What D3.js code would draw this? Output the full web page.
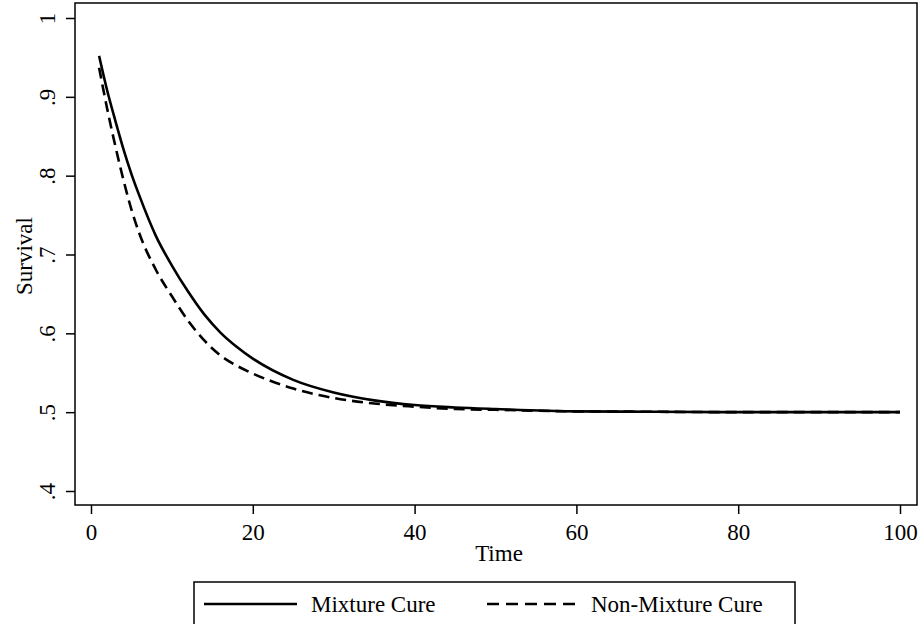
<!DOCTYPE html>
<html>
<head>
<meta charset="utf-8">
<script src="https://cdn.jsdelivr.net/npm/d3@7"></script>
<style>
  body { margin: 0; background: #fff; }
  svg { display: block; font-family: "Liberation Serif", "Times New Roman", serif; }
</style>
</head>
<body>
<svg id="chart" width="920" height="624"></svg>
<script>
// time points and survival values
const times = [1, 2, 3, 4, 5, 6, 8, 10, 12, 14, 16, 18, 20, 25, 30, 35, 40, 45, 50, 60, 70, 80, 90, 100];
const mixtureCure = [0.952, 0.908, 0.870, 0.834, 0.802, 0.774, 0.724, 0.686, 0.653, 0.624, 0.601, 0.583, 0.568, 0.541, 0.525, 0.515, 0.509, 0.506, 0.504, 0.501, 0.5005, 0.500, 0.500, 0.500];
const nonMixtureCure = [0.937, 0.885, 0.838, 0.795, 0.757, 0.726, 0.681, 0.647, 0.616, 0.591, 0.572, 0.559, 0.549, 0.530, 0.518, 0.511, 0.507, 0.504, 0.503, 0.501, 0.5005, 0.500, 0.500, 0.500];
const xTicks = [0, 20, 40, 60, 80, 100];
const yTicks = [0.4, 0.5, 0.6, 0.7, 0.8, 0.9, 1];
const yTickLabels = [".4", ".5", ".6", ".7", ".8", ".9", "1"];

const svg = d3.select("#chart");

const frame = { left: 75, top: 3, right: 917, bottom: 505 };

const x = d3.scaleLinear().domain([0, 100]).range([91, 900]);
const y = d3.scaleLinear().domain([0.4, 1]).range([491, 18]);

// plot frame
svg.append("rect")
    .attr("x", frame.left)
    .attr("y", frame.top)
    .attr("width", frame.right - frame.left)
    .attr("height", frame.bottom - frame.top)
    .attr("fill", "none")
    .attr("stroke", "#000")
    .attr("stroke-width", 1.5);

// y axis
const yAxis = svg.append("g")
    .attr("transform", `translate(${frame.left},0)`)
    .call(d3.axisLeft(y)
        .tickValues(yTicks)
        .tickSize(9)
        .tickFormat((d, i) => yTickLabels[i]));
yAxis.select(".domain").remove();
yAxis.selectAll(".tick line").attr("stroke", "#000").attr("stroke-width", 1.5);
yAxis.selectAll(".tick text")
    .attr("x", null).attr("dy", null)
    .attr("transform", "translate(-20,0) rotate(-90)")
    .attr("text-anchor", "middle")
    .style("font-family", "Liberation Serif")
    .style("font-size", "23px")
    .attr("fill", "#000");

// x axis
const xAxis = svg.append("g")
    .attr("transform", `translate(0,${frame.bottom})`)
    .call(d3.axisBottom(x)
        .tickValues(xTicks)
        .tickSize(9)
        .tickFormat(d3.format("d")));
xAxis.select(".domain").remove();
xAxis.selectAll(".tick line").attr("stroke", "#000").attr("stroke-width", 1.5);
xAxis.selectAll(".tick text")
    .attr("y", 35).attr("dy", null)
    .style("font-family", "Liberation Serif")
    .style("font-size", "23px")
    .attr("fill", "#000");

// axis titles
svg.append("text")
    .attr("x", (frame.left + frame.right) / 2 + 3)
    .attr("y", 561)
    .attr("text-anchor", "middle")
    .style("font-size", "23px")
    .text("Time");

svg.append("text")
    .attr("transform", `translate(32,${(frame.top + frame.bottom) / 2 + 2}) rotate(-90)`)
    .attr("text-anchor", "middle")
    .style("font-size", "23px")
    .text("Survival");

// curves
const line = d3.line()
    .x(d => x(d[0]))
    .y(d => y(d[1]))
    .curve(d3.curveMonotoneX);

svg.append("path")
    .datum(times.map((t, i) => [t, nonMixtureCure[i]]))
    .attr("d", line)
    .attr("fill", "none")
    .attr("stroke", "#000")
    .attr("stroke-width", 2.6)
    .attr("stroke-dasharray", "11,6");

svg.append("path")
    .datum(times.map((t, i) => [t, mixtureCure[i]]))
    .attr("d", line)
    .attr("fill", "none")
    .attr("stroke", "#000")
    .attr("stroke-width", 2.6);

// legend
const legend = svg.append("g");
legend.append("rect")
    .attr("x", 194)
    .attr("y", 582)
    .attr("width", 601)
    .attr("height", 60)
    .attr("fill", "#fff")
    .attr("stroke", "#000")
    .attr("stroke-width", 1.5);

legend.append("line")
    .attr("x1", 204).attr("x2", 297)
    .attr("y1", 604).attr("y2", 604)
    .attr("stroke", "#000").attr("stroke-width", 2.6);
legend.append("text")
    .attr("x", 311).attr("y", 612)
    .style("font-size", "23px")
    .text("Mixture Cure");

legend.append("line")
    .attr("x1", 487).attr("x2", 577)
    .attr("y1", 604).attr("y2", 604)
    .attr("stroke", "#000").attr("stroke-width", 2.6)
    .attr("stroke-dasharray", "12,7");
legend.append("text")
    .attr("x", 591).attr("y", 612)
    .style("font-size", "23px")
    .text("Non-Mixture Cure");
</script>
</body>
</html>
